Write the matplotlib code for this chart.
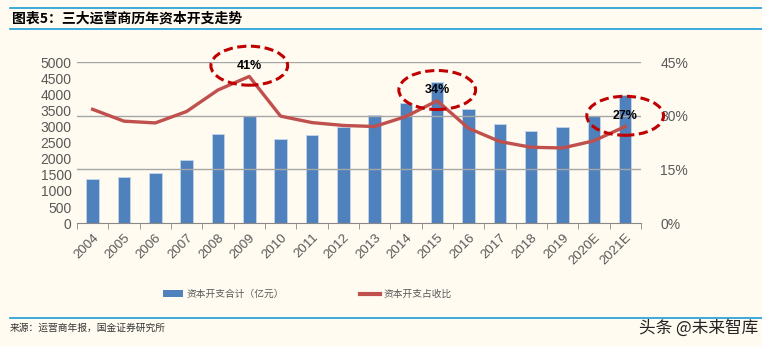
import matplotlib.pyplot as plt
from matplotlib.patches import Ellipse
from matplotlib.lines import Line2D
from matplotlib.patches import Patch
import numpy as np

plt.rcParams['font.family'] = ['Liberation Sans', 'Noto Sans CJK SC', 'DejaVu Sans']

years = ['2004', '2005', '2006', '2007', '2008', '2009', '2010', '2011', '2012',
         '2013', '2014', '2015', '2016', '2017', '2018', '2019', '2020E', '2021E']
capex = [1385, 1420, 1553, 1957, 2764, 3330, 2618, 2742, 2990,
         3364, 3736, 4370, 3545, 3093, 2866, 2990, 3342, 3994]
capex_ratio = [31.8, 28.5, 28.0, 31.2, 37.2, 41.0, 29.9, 28.1, 27.3,
               27.0, 29.8, 34.2, 26.5, 22.8, 21.2, 21.0, 23.0, 27.0]
# points that get a circled callout
callouts = ['2009', '2015', '2021E']

bg = '#FFFBF0'
bar_color = '#4F81BD'
line_color = '#C0504D'
text_gray = '#595959'

fig = plt.figure(figsize=(7.62, 3.47), dpi=100, facecolor=bg)
ax = fig.add_axes([0.101, 0.357, 0.740, 0.464])
ax.set_facecolor(bg)
x = np.arange(len(years))

ax.bar(x, capex, width=0.4, color=bar_color, edgecolor='#C5D5EA', linewidth=0.6, zorder=2)
ax.set_xlim(-0.5, len(years) - 0.5)
ax.set_ylim(0, 5000)
ax.set_yticks(range(0, 5001, 500))
ax.tick_params(axis='y', length=0, labelsize=10, labelcolor=text_gray, pad=4)
ax.set_xticks(x)
ax.set_xticklabels(years, rotation=45, ha='right', rotation_mode='anchor',
                   fontsize=9.5, color=text_gray)
ax.set_xticks(np.arange(-0.5, len(years)), minor=True)
ax.tick_params(axis='x', which='major', length=0, pad=6)
ax.tick_params(axis='x', which='minor', length=4, color='#888888', direction='out')
for side in ['left', 'right', 'top']:
    ax.spines[side].set_visible(False)
ax.spines['bottom'].set_color('#888888')

ax2 = ax.twinx()
ax2.set_ylim(0, 45)
ax2.set_yticks([0, 15, 30, 45])
ax2.set_yticklabels(['0%', '15%', '30%', '45%'])
ax2.tick_params(axis='y', length=0, labelsize=10, labelcolor=text_gray, pad=14)
for side in ['left', 'right', 'top', 'bottom']:
    ax2.spines[side].set_visible(False)
# horizontal grid follows the percentage ticks
for v in [15, 30, 45]:
    ax2.axhline(v, color='#A6A6A6', linewidth=1.0, zorder=0)
ax.set_zorder(1)
ax2.set_zorder(2)
ax2.patch.set_visible(False)

ax2.plot(x, capex_ratio, color=line_color, linewidth=2.4, zorder=3)

for yr in callouts:
    i = years.index(yr)
    v = capex_ratio[i]
    cy = v + 3.0
    ax2.text(i, cy, f'{v:.0f}%', ha='center', va='center', fontsize=9,
             fontweight='bold', color='black', zorder=5)
    ax2.add_patch(Ellipse((i, cy), 2.45, 10.9, fill=False, edgecolor='#C00000',
                          linestyle=(0, (3.0, 1.5)), linewidth=2.2, clip_on=False, zorder=4))

# legend below the axes
handles = [Patch(facecolor=bar_color, edgecolor='none'),
           Line2D([0], [0], color=line_color, linewidth=3)]
labels = ['资本开支合计（亿元）', '资本开支占收比']
fig.legend(handles, labels, loc='center left', bbox_to_anchor=(0.203, 0.152), ncol=2,
           frameon=False, labelcolor=text_gray, columnspacing=7.8,
           handlelength=2.0, handleheight=0.7, handletextpad=0.4,
           prop={'family': ['Noto Sans CJK SC'], 'size': 7})

# header and footer rules
fig.add_artist(Line2D([0.013, 1.0], [0.977, 0.977], color='#1B9BD7', linewidth=1.2))
fig.add_artist(Line2D([0.013, 1.0], [0.916, 0.916], color='#1B9BD7', linewidth=1.2))
fig.add_artist(Line2D([0.013, 1.0], [0.083, 0.083], color='#1B9BD7', linewidth=1.2))

fig.text(0.016, 0.947, '图表5：三大运营商历年资本开支走势', fontsize=10, fontweight='bold',
         style='italic', va='center', family=['Noto Sans CJK SC', 'DejaVu Sans'])
fig.text(0.013, 0.055, '来源：运营商年报，国金证券研究所', fontsize=7, va='center',
         color='#333333', family=['Noto Sans CJK SC', 'DejaVu Sans'])
fig.text(0.995, 0.055, '头条 @未来智库', fontsize=12, va='center', ha='right',
         color='#222222', family=['Noto Sans CJK SC', 'DejaVu Sans'])

fig.savefig('out.png', dpi=100, facecolor=bg)
